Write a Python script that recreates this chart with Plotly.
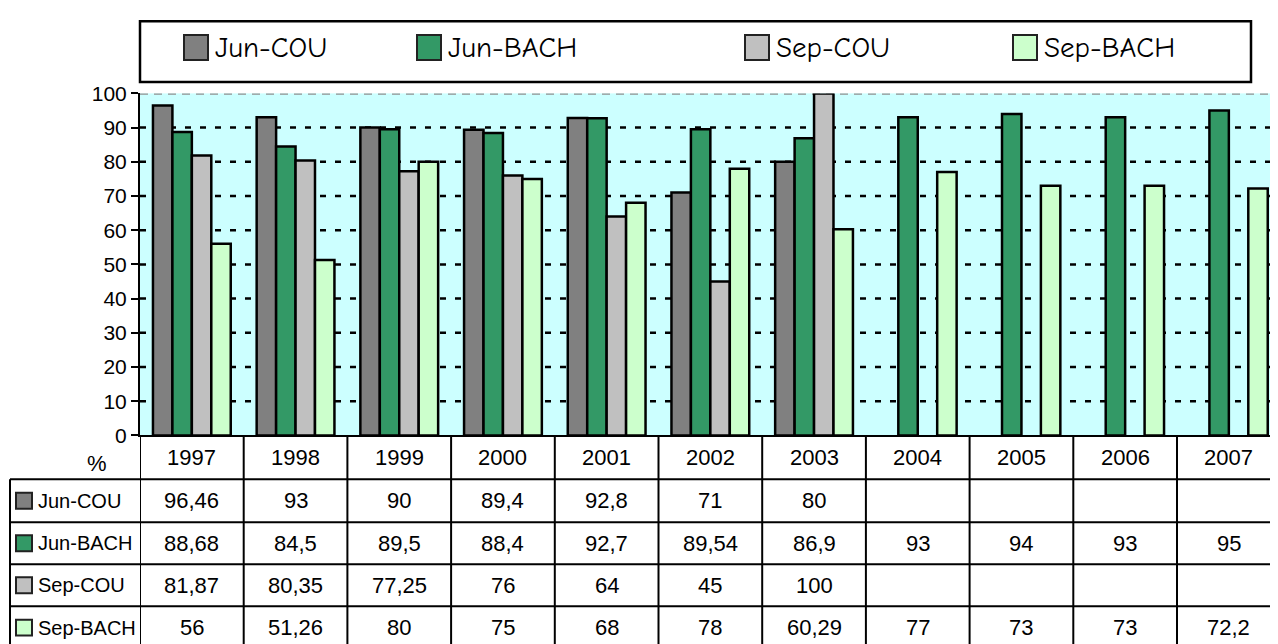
import plotly.graph_objects as go

# the page is photographed with an offset and a slight vertical squeeze;
# positions below are given in photo pixels and mapped back to figure pixels
X_OFF, Y_OFF, Y_SCALE = 8, 18, 0.966
W, H = 1270, 650
COL_W = 103.7

years = ["1997", "1998", "1999", "2000", "2001", "2002", "2003", "2004", "2005", "2006", "2007"]
series_names = ["Jun-COU", "Jun-BACH", "Sep-COU", "Sep-BACH"]
jun_cou = [96.46, 93, 90, 89.4, 92.8, 71, 80, None, None, None, None]
jun_bach = [88.68, 84.5, 89.5, 88.4, 92.7, 89.54, 86.9, 93, 94, 93, 95]
sep_cou = [81.87, 80.35, 77.25, 76, 64, 45, 100, None, None, None, None]
sep_bach = [56, 51.26, 80, 75, 68, 78, 60.29, 77, 73, 73, 72.2]
y_ticks = list(range(0, 101, 10))

colors = ['#808080', '#339966', '#C0C0C0', '#CCFFCC']
all_values = [jun_cou, jun_bach, sep_cou, sep_bach]


def px(x):
    return (x - X_OFF) / W


def py(y):
    return 1 - ((y - Y_OFF) / Y_SCALE) / H


y_zero, y_top = 434, 91.5
row_lines = [478, 521, 563, 605, 648]

fig = go.Figure()
for name, vals, col in zip(series_names, all_values, colors):
    fig.add_trace(go.Bar(x=years, y=vals, name=name, marker_color=col,
                         marker_line_color='black', marker_line_width=2.5,
                         showlegend=False, hoverinfo='x+y+name'))

shapes = []
annotations = []

# dashed grid lines (grey at the top)
for t in y_ticks[1:]:
    shapes.append(dict(type='line', xref='x', yref='y', x0=-0.5, x1=10.6, y0=t, y1=t,
                       line=dict(color='black' if t < 100 else '#909090', width=2.5,
                                 dash='6px,9px' if t < 100 else '8px,6px'),
                       layer='below'))

# legend box
shapes.append(dict(type='rect', xref='paper', yref='paper', x0=px(140), x1=px(1251),
                   y0=py(80), y1=min(py(15), 0.998), line=dict(color='black', width=2.5),
                   fillcolor='white'))
for name, col, kx in zip(series_names, colors, [184, 417, 745, 1013]):
    shapes.append(dict(type='rect', xref='paper', yref='paper', x0=px(kx), x1=px(kx + 24),
                       y0=py(58), y1=py(33), line=dict(color='#222222', width=2), fillcolor=col))
    annotations.append(dict(xref='paper', yref='paper', x=px(kx + 29), y=py(46), text=name,
                            showarrow=False, xanchor='left', yanchor='middle',
                            font=dict(family='Comic Sans MS, Comic Neue, Open Sans', size=29,
                                      color='black')))

# data table grid
for k in range(len(years) + 1):
    shapes.append(dict(type='line', xref='x', yref='paper', x0=k - 0.5, x1=k - 0.5,
                       y0=py(row_lines[-1]), y1=py(y_zero), line=dict(color='black', width=2)))
for ry in row_lines[:-1]:
    shapes.append(dict(type='line', xref='paper', yref='paper', x0=px(10), x1=1,
                       y0=py(ry), y1=py(ry), line=dict(color='black', width=2)))
shapes.append(dict(type='line', xref='paper', yref='paper', x0=px(10), x1=px(10),
                   y0=py(row_lines[-1]), y1=py(row_lines[0]), line=dict(color='black', width=2)))

table_font = dict(family='Liberation Sans, Arial', size=22, color='black')
annotations.append(dict(xref='paper', yref='paper', x=px(97), y=py(462), text='%',
                        showarrow=False, xanchor='center', yanchor='middle', font=table_font))
for i, yr in enumerate(years):
    annotations.append(dict(xref='x', yref='paper', x=i, y=py((y_zero + row_lines[0]) / 2),
                            text=yr, showarrow=False, xanchor='center', yanchor='middle',
                            font=table_font))

for i, (name, vals, col) in enumerate(zip(series_names, all_values, colors)):
    top, bot = row_lines[i], row_lines[i + 1]
    cy = (top + bot) / 2
    shapes.append(dict(type='rect', xref='paper', yref='paper', x0=px(16), x1=px(32),
                       y0=py(cy + 8), y1=py(cy - 8), line=dict(color='#222222', width=2),
                       fillcolor=col))
    annotations.append(dict(xref='paper', yref='paper', x=px(36), y=py(cy), text=name,
                            showarrow=False, xanchor='left', yanchor='middle',
                            font=dict(family='Liberation Sans Narrow, Liberation Sans, Arial',
                                      size=20, color='black')))
    for j, v in enumerate(vals):
        if v is None:
            continue
        annotations.append(dict(xref='x', yref='paper', x=j, y=py(cy),
                                text=f"{v:g}".replace('.', ','), showarrow=False,
                                xanchor='center', yanchor='middle', font=table_font))

fig.update_layout(
    width=W, height=H,
    margin=dict(l=0, r=0, t=0, b=0),
    paper_bgcolor='white',
    plot_bgcolor='#CCFFFF',
    barmode='group', bargap=0.25, bargroupgap=0,
    shapes=shapes, annotations=annotations,
    xaxis=dict(domain=[px(140), 1], range=[-0.5, -0.5 + (1278 - 140) / COL_W],
               showticklabels=False, showgrid=False, zeroline=False, showline=True,
               linecolor='black', linewidth=2, ticks=''),
    yaxis=dict(domain=[py(y_zero), py(y_top)], range=[0, 100], tickvals=y_ticks,
               showgrid=False, zeroline=False, showline=True, linecolor='black',
               linewidth=2, ticks='outside', ticklen=7, tickwidth=2, tickcolor='black',
               tickfont=dict(family='Liberation Sans, Arial', size=21, color='black')),
)

fig.write_html("out.html")
